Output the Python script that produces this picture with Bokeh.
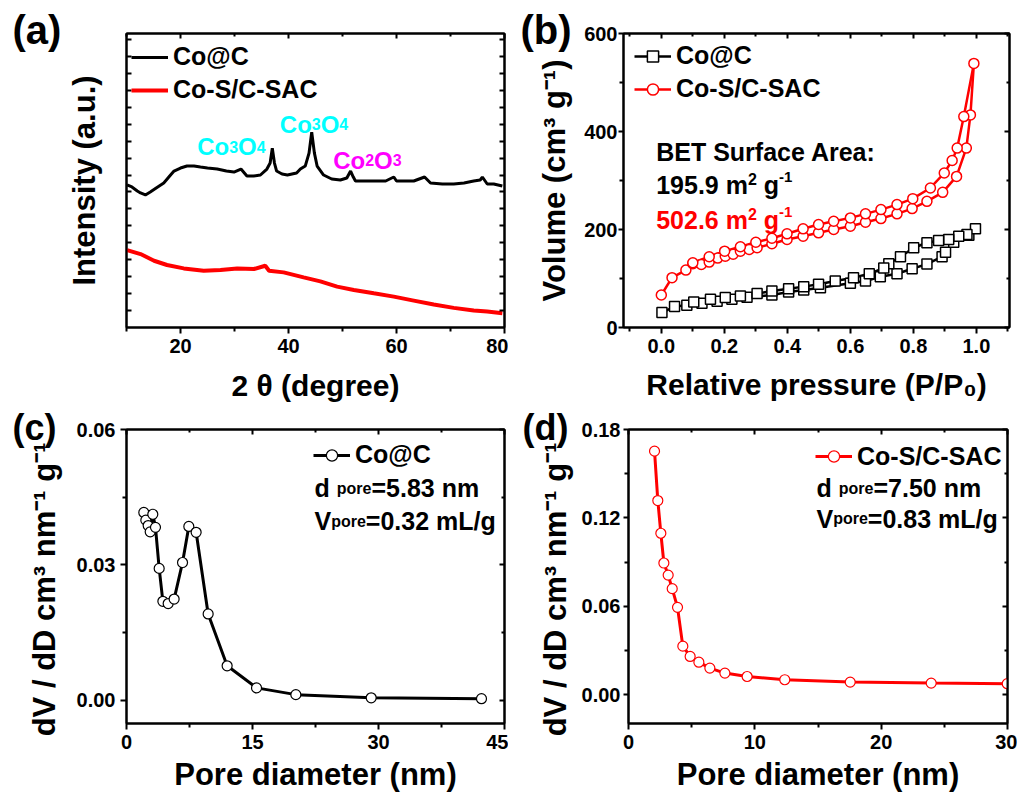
from bokeh.plotting import figure
from bokeh.models import Range1d, FixedTicker, LinearAxis, Label, Legend, LegendItem
from bokeh.layouts import column, row
from bokeh.embed import file_html
from bokeh.resources import INLINE

FONT = "Liberation Sans"
RED = "#FF0000"
CYAN = "#00FFFF"
MAGENTA = "#FF00FF"
NBSP = "\u00a0"

# ---------------- data ----------------
# (a) XRD, 2theta (deg) vs intensity (a.u.)
xrd_2theta_coc = [10.1, 11.0, 12.0, 12.6, 13.5, 14.4, 15.5, 16.9, 18.0, 18.8, 20.0, 21.2,
                  22.5, 23.7, 25.0, 26.8, 28.5, 29.9, 31.2, 32.3, 33.5, 34.8, 36.0, 36.6,
                  37.0, 37.4, 37.8, 38.8, 39.8, 41.5, 42.2, 43.1, 43.8, 44.3, 44.8, 45.3,
                  46.5, 48.0, 49.6, 50.8, 51.5, 52.0, 52.4, 54.0, 55.8, 58.0, 59.5, 60.0,
                  60.7, 63.2, 65.2, 66.3, 68.5, 70.6, 72.5, 74.3, 75.5, 75.9, 76.8, 78.0, 79.6]
xrd_int_coc = [143, 141, 137, 135, 133, 136, 140, 145, 152, 157, 160, 162,
               162, 161, 160, 159, 157, 156, 159, 152, 152, 153, 159, 165,
               180, 165, 157, 154, 153, 155, 159, 162, 175, 196, 175, 162,
               153, 149, 148, 150, 157, 151, 147, 147, 147, 147, 151, 147,
               147, 147, 151, 145, 144, 144, 145, 147, 148, 151, 144, 144, 142]
xrd_2theta_sac = [10.1, 12.6, 15.1, 17.5, 20.6, 24.3, 27.4, 30.5, 33.6, 35.7, 36.4, 39.1,
                  42.8, 45.9, 49.0, 52.1, 55.8, 59.5, 63.2, 66.9, 70.6, 74.3, 76.8, 79.6]
xrd_int_sac = [77.7, 73.7, 67.0, 62.7, 59.3, 57.0, 57.7, 59.3, 58.7, 62.0, 57.0, 55.3,
               50.3, 46.3, 41.0, 37.7, 34.3, 31.0, 27.0, 23.0, 19.7, 17.0, 16.0, 14.3]
xrd_peak_labels = [("Co", "3", "O", "4"), ("Co", "3", "O", "4"), ("Co", "2", "O", "3")]

# (b) N2 isotherms: relative pressure vs volume (cm3 g-1)
coc_ads_p = [0.002, 0.042, 0.081, 0.129, 0.177, 0.224, 0.272, 0.351, 0.404, 0.452, 0.505,
             0.600, 0.648, 0.695, 0.748, 0.796, 0.843, 0.891, 0.902, 0.928, 0.976, 0.997]
coc_ads_v = [30.5, 42.7, 45.4, 49.4, 53.5, 57.6, 61.6, 66.3, 72.4, 76.5, 81.3,
             90.1, 94.8, 103.7, 109.8, 120.0, 129.4, 144.4, 153.8, 174.1, 188.4, 201.4]
coc_des_p = [0.970, 0.944, 0.912, 0.880, 0.843, 0.801, 0.759, 0.722, 0.706, 0.660, 0.610,
             0.552, 0.499, 0.452, 0.404, 0.351, 0.304, 0.251, 0.203, 0.156, 0.103]
coc_des_v = [189.8, 186.3, 179.6, 177.6, 172.9, 162.7, 144.4, 130.2, 121.2, 109.8, 101.7,
             94.8, 88.1, 83.4, 79.3, 74.4, 69.2, 64.3, 61.0, 57.6, 52.1]
sac_ads_p = [0.000, 0.034, 0.078, 0.100, 0.127, 0.152, 0.179, 0.203, 0.228, 0.251, 0.279,
             0.304, 0.351, 0.399, 0.450, 0.499, 0.547, 0.600, 0.648, 0.697, 0.748, 0.796,
             0.843, 0.893, 0.937, 0.968, 0.981, 0.992]
sac_ads_v = [66.3, 101.7, 117.2, 130.2, 128.8, 133.5, 141.6, 145.6, 149.7, 155.8, 159.3,
             162.7, 170.9, 179.6, 186.3, 193.2, 199.9, 206.7, 214.8, 222.3, 231.9, 242.7,
             257.5, 275.8, 308.4, 366.1, 433.9, 539.0]
sac_des_p = [0.960, 0.939, 0.923, 0.898, 0.854, 0.798, 0.748, 0.697, 0.648, 0.600, 0.547,
             0.499, 0.450, 0.399, 0.351, 0.300, 0.251, 0.201, 0.152, 0.100]
sac_des_v = [430.4, 366.1, 340.9, 315.3, 284.8, 263.0, 250.8, 240.6, 231.9, 223.7, 216.8,
             210.1, 201.4, 191.2, 182.2, 174.1, 164.8, 155.8, 144.4, 132.2]
bet_coc = "195.9"
bet_sac = "502.6"

# (c) pore size distribution Co@C
psd_d_coc = [2.06, 2.30, 2.58, 2.82, 3.13, 3.45, 3.89, 4.33, 4.96, 5.67, 6.67, 7.42, 8.29,
             9.72, 11.98, 15.48, 20.16, 29.13, 42.26]
psd_v_coc = [0.0416, 0.0399, 0.0387, 0.0373, 0.0412, 0.0383, 0.0292, 0.0219, 0.0214, 0.0224,
             0.0305, 0.0385, 0.0372, 0.0191, 0.0076, 0.0027, 0.0012, 0.0005, 0.0003]
# (d) pore size distribution Co-S/C-SAC
psd_d_sac = [2.06, 2.32, 2.56, 2.80, 3.14, 3.46, 3.88, 4.30, 4.88, 5.57, 6.44, 7.63, 9.39,
             12.37, 17.55, 23.96, 29.98]
psd_v_sac = [0.1653, 0.1318, 0.1096, 0.0894, 0.0812, 0.0720, 0.0593, 0.0330, 0.0260, 0.0221,
             0.0181, 0.0147, 0.0124, 0.0102, 0.0086, 0.0079, 0.0075]

# ticks
a_xticks = [20, 40, 60, 80]; a_xminor = [10, 30, 50, 70]
a_xlabels = ["20", "40", "60", "80"]
a_yticks = [17, 34, 51, 68, 85, 102, 119, 136, 153, 170, 187, 204, 221, 238, 255, 272, 289]
b_xticks = [0.0, 0.2, 0.4, 0.6, 0.8, 1.0]; b_xminor = [-0.1, 0.1, 0.3, 0.5, 0.7, 0.9, 1.1]
b_xlabels = ["0.0", "0.2", "0.4", "0.6", "0.8", "1.0"]
b_yticks = [0, 200, 400, 600]; b_yminor = [100, 300, 500]
b_ylabels = ["0", "200", "400", "600"]
c_xticks = [0, 15, 30, 45]; c_xminor = [7.5, 22.5, 37.5]
c_xlabels = ["0", "15", "30", "45"]
c_yticks = [0.0, 0.03, 0.06]; c_yminor = [0.015, 0.045]
c_ylabels = ["0.00", "0.03", "0.06"]
d_xticks = [0, 10, 20, 30]; d_xminor = [5, 15, 25]
d_xlabels = ["0", "10", "20", "30"]
d_yticks = [0.0, 0.06, 0.12, 0.18]; d_yminor = [0.03, 0.09, 0.15]
d_ylabels = ["0.00", "0.06", "0.12", "0.18"]

# ---------------- geometry (page pixels) ----------------
GEOM = {
    "a": dict(fl=126, fr=504, ft=32, fb=327, x=(10, 80), y=(0, 295), W=508, H=408, ox=0, oy=0),
    "b": dict(fl=623, fr=1009, ft=33, fb=328, x=(-0.12, 1.105), y=(0, 600), W=509, H=408, ox=508, oy=0),
    "c": dict(fl=126, fr=504, ft=428, fb=723, x=(0, 45), y=(-0.0052, 0.06), W=508, H=390, ox=0, oy=408),
    "d": dict(fl=628, fr=1007, ft=429, fb=723, x=(0, 30), y=(-0.0195, 0.18), W=509, H=390, ox=508, oy=408),
}

BOLD_W = {'0': .556, '1': .556, '2': .556, '3': .556, '4': .556, '5': .556, '6': .556, '7': .556,
          '8': .556, '9': .556, '.': .278, ' ': .278, '=': .584, 'm': .889, 'n': .611, 'g': .611,
          'L': .611, '/': .278, 'C': .722, 'o': .611, 'O': .778, 'p': .611, 'r': .389, 'e': .556,
          'd': .611, 'V': .667, '-': .333, 'B': .722, 'E': .667, 'T': .611, 'S': .667, 'u': .611,
          'f': .333, 'a': .556, 'c': .556, 'A': .722, ':': .333, '(': .333, ')': .333, 'b': .611}


def tw(s, size):
    return sum(BOLD_W.get(ch, 0.6) for ch in s) * size


def to_data(g, px, py):
    x0, x1 = g["x"]; y0, y1 = g["y"]
    x = x0 + (px - g["fl"]) / (g["fr"] - g["fl"]) * (x1 - x0)
    y = y1 - (py - g["ft"]) / (g["fb"] - g["ft"]) * (y1 - y0)
    return x, y


def make_fig(key, panel_label, label_px, label_size):
    g = GEOM[key]
    p = figure(width=g["W"], height=g["H"], x_range=Range1d(*g["x"]), y_range=Range1d(*g["y"]),
               output_backend="svg", toolbar_location=None,
               min_border_left=g["fl"] - g["ox"], min_border_right=g["W"] - (g["fr"] - g["ox"]),
               min_border_top=g["ft"] - g["oy"], min_border_bottom=g["H"] - (g["fb"] - g["oy"]))
    p.grid.visible = False
    p.outline_line_color = "black"
    p.outline_line_width = 2
    p.background_fill_color = "white"
    p.border_fill_color = "white"
    p.title.text = panel_label
    p.title.align = "left"
    p.title.offset = label_px - g["fl"]
    p.title.standoff = -36
    p.title.vertical_align = "bottom"
    p.title.text_font = FONT
    p.title.text_font_style = "bold"
    p.title.text_font_size = f"{label_size}px"
    p.title.text_color = "black"
    return p


def style_axis(ax, major, minor, labels=None, title=None, tout=6, mout=4, lstand=5,
               tstand=10, tsize="31px", inward=False):
    ax.ticker = FixedTicker(ticks=major, minor_ticks=minor)
    ax.axis_line_width = 2
    ax.axis_line_color = "black"
    ax.major_tick_line_width = 2
    ax.minor_tick_line_width = 2
    ax.major_tick_line_color = "black"
    ax.minor_tick_line_color = "black"
    if inward:
        ax.major_tick_out = 0; ax.major_tick_in = 5
        ax.minor_tick_out = 0; ax.minor_tick_in = 3
    else:
        ax.major_tick_out = tout; ax.major_tick_in = 0
        ax.minor_tick_out = mout; ax.minor_tick_in = 0
    ax.major_label_text_font = FONT
    ax.major_label_text_font_style = "bold"
    if labels is None:
        ax.major_label_text_color = None
        ax.major_label_text_font_size = "1px"
        ax.major_label_standoff = 0
    else:
        ax.major_label_text_color = "black"
        ax.major_label_text_font_size = "20px"
        ax.major_label_standoff = lstand
        ax.major_label_overrides = {t: l for t, l in zip(major, labels)}
    if title is not None:
        ax.axis_label = title
        ax.axis_label_text_font = FONT
        ax.axis_label_text_font_style = "bold"
        ax.axis_label_text_font_size = tsize
        ax.axis_label_text_color = "black"
        ax.axis_label_standoff = tstand


def mirror_axes(p, xmajor, xminor, ymajor, yminor):
    top = LinearAxis()
    style_axis(top, xmajor, xminor, inward=True)
    p.add_layout(top, "above")
    right = LinearAxis()
    style_axis(right, ymajor, yminor, inward=True)
    p.add_layout(right, "right")


def put_runs(p, key, px, py, runs, color="black"):
    # runs: (text, font px, rise px, gap before px)
    x0, y0 = to_data(GEOM[key], px, py)
    dx = 0.0
    for text, size, rise, gap in runs:
        dx += gap
        p.add_layout(Label(x=x0, y=y0, x_offset=dx, y_offset=rise, text=text, text_font=FONT,
                           text_font_size=f"{size}px", text_font_style="bold", text_color=color,
                           text_baseline="alphabetic", text_align="left"))
        dx += tw(text, size)


def add_legend(p, key, label, renderers, gx, gy_center):
    # one single-row legend per entry
    g = GEOM[key]
    item_h = 28
    bottom = gy_center - item_h / 2 + item_h + 5
    lg = Legend(items=[LegendItem(label=label, renderers=renderers)],
                location=(gx - g["fl"], g["fb"] - bottom), orientation="vertical",
                border_line_color=None, background_fill_alpha=0, padding=0, margin=0,
                spacing=0, glyph_width=37, glyph_height=item_h, label_height=item_h,
                label_standoff=5, label_text_font=FONT, label_text_font_style="bold",
                label_text_font_size="25px", label_text_color="black")
    p.add_layout(lg)


PSD_YTITLE = "dV / dD cm³ nm⁻¹ g⁻¹" + NBSP * 3

# ---------------- (a) ----------------
pa = make_fig("a", "(a)", 12, 40)
style_axis(pa.xaxis[0], a_xticks, a_xminor, a_xlabels, "2 θ (degree)", tstand=13, tsize="30px")
style_axis(pa.yaxis[0], a_yticks, [], None, "Intensity (a.u.)", tstand=25, inward=True)
mirror_axes(pa, a_xticks, a_xminor, a_yticks, [])
la = pa.line(xrd_2theta_coc, xrd_int_coc, line_color="black", line_width=3)
lb = pa.line(xrd_2theta_sac, xrd_int_sac, line_color=RED, line_width=4)
add_legend(pa, "a", "Co@C", [la], 131, 52)
add_legend(pa, "a", "Co-S/C-SAC", [lb], 131, 85)
peak_pos = [(196.7, 145.7, CYAN), (279.3, 123.3, CYAN), (332.7, 159.3, MAGENTA)]
for (px, py, col), (e1, n1, e2, n2) in zip(peak_pos, xrd_peak_labels):
    put_runs(pa, "a", px, py, [(e1, 24, 0, 0), (n1, 16, 0, 0), (e2, 24, 0, 0), (n2, 16, 0, 0)], color=col)

# ---------------- (b) ----------------
pb = make_fig("b", "(b)", 520, 40)
style_axis(pb.xaxis[0], b_xticks, b_xminor, b_xlabels, "Relative pressure (P/P₀)", tstand=12, tsize="30px")
style_axis(pb.yaxis[0], b_yticks, b_yminor, b_ylabels, "Volume (cm³ g⁻¹)", tout=5, lstand=1, tstand=9)
mirror_axes(pb, b_xticks, b_xminor, b_yticks, b_yminor)
coc_des_line_p = [coc_ads_p[-1]] + coc_des_p
coc_des_line_v = [coc_ads_v[-1]] + coc_des_v
sac_des_line_p = [sac_ads_p[-1]] + sac_des_p
sac_des_line_v = [sac_ads_v[-1]] + sac_des_v
r1 = pb.line(coc_ads_p, coc_ads_v, line_color="black", line_width=2.5)
pb.line(coc_des_line_p, coc_des_line_v, line_color="black", line_width=2.5)
s1 = pb.scatter(coc_ads_p, coc_ads_v, marker="square", size=10, fill_color="white", line_color="black", line_width=1.5)
pb.scatter(coc_des_p, coc_des_v, marker="square", size=10, fill_color="white", line_color="black", line_width=1.5)
r2 = pb.line(sac_ads_p, sac_ads_v, line_color=RED, line_width=2.5)
pb.line(sac_des_line_p, sac_des_line_v, line_color=RED, line_width=2.5)
s2 = pb.scatter(sac_ads_p, sac_ads_v, marker="circle", size=10, fill_color="white", line_color=RED, line_width=1.5)
pb.scatter(sac_des_p, sac_des_v, marker="circle", size=10, fill_color="white", line_color=RED, line_width=1.5)
add_legend(pb, "b", "Co@C", [r1, s1], 634, 52)
add_legend(pb, "b", "Co-S/C-SAC", [r2, s2], 634, 85)
put_runs(pb, "b", 655.7, 151.7, [("BET Surface Area:", 25, 0, 0)])
put_runs(pb, "b", 655.7, 185, [(bet_coc + " m", 25, 0, 0), ("2", 16, 6, 0), ("g", 25, 0, 7), ("-1", 15, 8, 0)])
put_runs(pb, "b", 655.7, 220, [(bet_sac + " m", 25, 0, 0), ("2", 16, 6, 0), ("g", 25, 0, 7), ("-1", 15, 8, 0)], color=RED)

# ---------------- (c) ----------------
pc = make_fig("c", "(c)", 12, 36)
style_axis(pc.xaxis[0], c_xticks, c_xminor, c_xlabels, "Pore diameter (nm)", tstand=5)
style_axis(pc.yaxis[0], c_yticks, c_yminor, c_ylabels, PSD_YTITLE, tstand=12, tsize="31px")
mirror_axes(pc, c_xticks, c_xminor, c_yticks, c_yminor)
rc = pc.line(psd_d_coc, psd_v_coc, line_color="black", line_width=3)
sc = pc.scatter(psd_d_coc, psd_v_coc, marker="circle", size=10, fill_color="white", line_color="black", line_width=1.2)
add_legend(pc, "c", "Co@C", [rc, sc], 313, 450)
put_runs(pc, "c", 314, 487, [("d", 25, 0, 0), ("pore", 16, 0, 7), ("=5.83 nm", 25, 0, 0)])
put_runs(pc, "c", 314, 520, [("V", 25, 0, 0), ("pore", 16, 0, 0), ("=0.32 mL/g", 25, 0, 0)])

# ---------------- (d) ----------------
pd_ = make_fig("d", "(d)", 522, 36)
style_axis(pd_.xaxis[0], d_xticks, d_xminor, d_xlabels, "Pore diameter (nm)", tstand=5)
style_axis(pd_.yaxis[0], d_yticks, d_yminor, d_ylabels, PSD_YTITLE, tout=5, lstand=3, tstand=6, tsize="31px")
mirror_axes(pd_, d_xticks, d_xminor, d_yticks, d_yminor)
rd = pd_.line(psd_d_sac, psd_v_sac, line_color=RED, line_width=3)
sd = pd_.scatter(psd_d_sac, psd_v_sac, marker="circle", size=10, fill_color="white", line_color=RED, line_width=1.2)
add_legend(pd_, "d", "Co-S/C-SAC", [rd, sd], 815, 451.7)
put_runs(pd_, "d", 816, 487.7, [("d", 25, 0, 0), ("pore", 16, 0, 7), ("=7.50 nm", 25, 0, 0)])
put_runs(pd_, "d", 816, 518.3, [("V", 25, 0, 0), ("pore", 16, 0, 0), ("=0.83 mL/g", 25, 0, 0)])

layout = column(row(pa, pb), row(pc, pd_))
open("out.html", "w").write(file_html(layout, INLINE))
